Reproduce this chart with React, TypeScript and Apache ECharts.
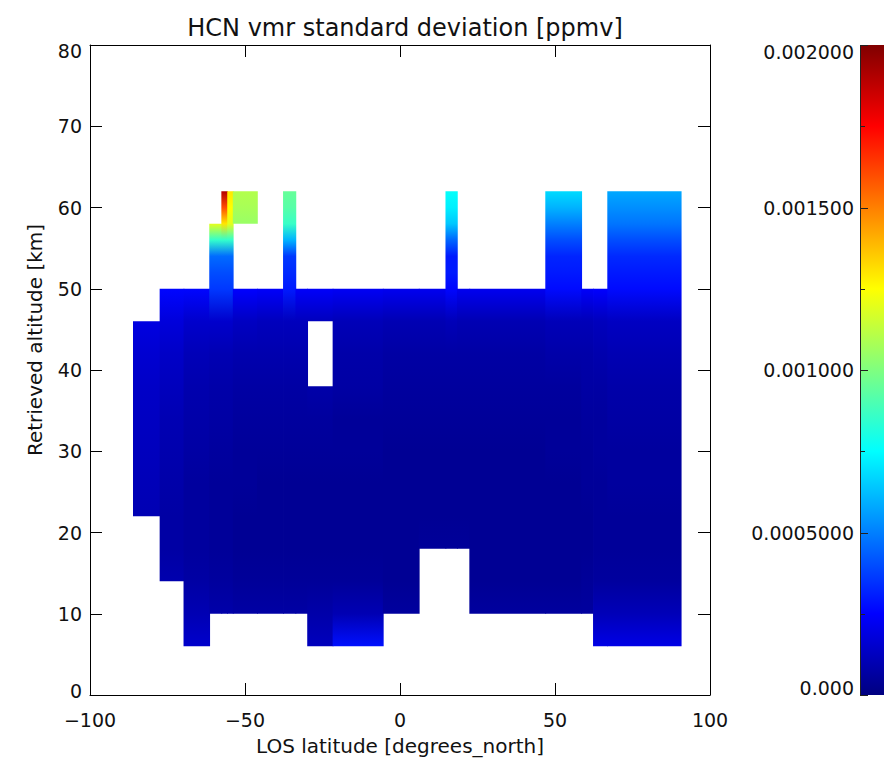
import React, { useEffect, useRef } from "react";
import * as echarts from "echarts";

// Altitude nodes (km) at which each latitude column carries a value
const NODE_ALT = [6, 10, 14, 18, 22, 26, 30, 34, 38, 42, 46, 50, 52, 54, 56, 58, 60, 62];

// Latitude edges of each column (degrees north)
const COL_LAT_LO = [-86, -77.4, -69.7, -61.4, -57.5, -55.6, -53.8, -46, -37.6, -33.6, -29.8, -21.6, -5.4, 6.2, 14.8, 18.5, 22.5, 47, 58.6, 62.4, 67];
const COL_LAT_HI = [-77.4, -69.7, -61.4, -57.5, -55.6, -53.8, -46, -37.6, -33.6, -29.8, -21.6, -5.4, 6.2, 14.8, 18.5, 22.5, 47, 58.6, 62.4, 67, 90.7];

const n = null;
// HCN vmr standard deviation (ppmv) per column, at NODE_ALT (null = no data)
const col01 = [n, n, n, n, 0.0001, 0.00011, 0.00012, 0.00013, 0.00014, 0.00016, 0.00019, n, n, n, n, n, n, n];
const col02 = [n, n, 0.00009, 0.00007, 0.00007, 0.00008, 0.00009, 0.0001, 0.00012, 0.00014, 0.00018, 0.00026, n, n, n, n, n, n];
const col03 = [0.00015, 0.0001, 0.00007, 0.00006, 0.00006, 0.00006, 0.00007, 0.00008, 0.00009, 0.00011, 0.00015, 0.00026, n, n, n, n, n, n];
const col04 = [n, 0.00008, 0.00006, 0.00005, 0.00005, 0.00005, 0.00006, 0.00007, 0.00008, 0.0001, 0.00015, 0.00036, 0.0004, 0.00046, 0.00085, 0.0012, n, n];
const col05 = [n, 0.00008, 0.00006, 0.00005, 0.00005, 0.00005, 0.00006, 0.00007, 0.00008, 0.0001, 0.00015, 0.00036, 0.0004, 0.00046, 0.00085, 0.0013, 0.0016, 0.0019];
const col06 = [n, 0.00008, 0.00006, 0.00005, 0.00005, 0.00005, 0.00006, 0.00007, 0.00008, 0.0001, 0.00015, 0.00036, 0.0004, 0.00046, 0.00085, 0.0012, 0.00125, 0.0013];
const col07 = [n, 0.00007, 0.00005, 0.00004, 0.00004, 0.00005, 0.00005, 0.00006, 0.00007, 0.00009, 0.00013, 0.00025, n, n, n, 0.00105, 0.00108, 0.0011];
const col08 = [n, 0.00007, 0.00005, 0.00004, 0.00004, 0.00004, 0.00005, 0.00006, 0.00007, 0.00009, 0.00012, 0.00024, n, n, n, n, n, n];
const col09 = [n, 0.00007, 0.00005, 0.00004, 0.00004, 0.00004, 0.00005, 0.00006, 0.00007, 0.00009, 0.00012, 0.0003, 0.00033, 0.00036, 0.0006, 0.00086, 0.00092, 0.00095];
const col10 = [n, 0.00007, 0.00005, 0.00004, 0.00004, 0.00004, 0.00005, 0.00006, 0.00007, 0.00009, 0.00012, 0.00024, n, n, n, n, n, n];
const col11 = [0.00012, 0.00008, 0.00005, 0.00004, 0.00004, 0.00004, 0.00005, 0.00006, 0.00008, n, 0.00012, 0.00024, n, n, n, n, n, n];
const col12 = [0.00028, 0.0001, 0.00005, 0.00004, 0.00004, 0.00004, 0.00005, 0.00005, 0.00007, 0.00008, 0.00011, 0.00023, n, n, n, n, n, n];
const col13 = [n, 0.00006, 0.00004, 0.00004, 0.00004, 0.00004, 0.00004, 0.00005, 0.00006, 0.00007, 0.0001, 0.00022, n, n, n, n, n, n];
const col14 = [n, n, n, 0.00005, 0.00004, 0.00004, 0.00004, 0.00005, 0.00006, 0.00007, 0.0001, 0.00022, n, n, n, n, n, n];
const col15 = [n, n, n, 0.00005, 0.00004, 0.00004, 0.00004, 0.00005, 0.00006, 0.00007, 0.00011, 0.00026, 0.0003, 0.0003, 0.00045, 0.00064, 0.00072, 0.00076];
const col16 = [n, n, n, 0.00005, 0.00004, 0.00004, 0.00004, 0.00005, 0.00006, 0.00007, 0.0001, 0.00022, n, n, n, n, n, n];
const col17 = [n, 0.00006, 0.00004, 0.00004, 0.00004, 0.00004, 0.00004, 0.00005, 0.00006, 0.00007, 0.0001, 0.00022, n, n, n, n, n, n];
const col18 = [n, 0.00006, 0.00004, 0.00004, 0.00004, 0.00004, 0.00005, 0.00005, 0.00006, 0.00008, 0.00011, 0.00027, 0.0003, 0.00032, 0.0004, 0.0005, 0.0006, 0.00068];
const col19 = [n, 0.00006, 0.00005, 0.00004, 0.00004, 0.00005, 0.00005, 0.00006, 0.00007, 0.00008, 0.00011, 0.00024, n, n, n, n, n, n];
const col20 = [0.0002, 0.00011, 0.00006, 0.00005, 0.00005, 0.00005, 0.00006, 0.00006, 0.00007, 0.00009, 0.00012, 0.00025, n, n, n, n, n, n];
const col21 = [0.0002, 0.00011, 0.00006, 0.00005, 0.00005, 0.00006, 0.00006, 0.00007, 0.00008, 0.0001, 0.00013, 0.00027, 0.0003, 0.00033, 0.0004, 0.00048, 0.00053, 0.00058];

const COLUMNS: (number | null)[][] = [
  col01, col02, col03, col04, col05, col06, col07, col08, col09, col10, col11,
  col12, col13, col14, col15, col16, col17, col18, col19, col20, col21,
];

// Colour bar range and tick labels
const VMIN = 0;
const VMAX = 0.002;
const CBAR_TICKS = [0, 0.0005, 0.001, 0.0015, 0.002];
const CBAR_LABELS = ["0.000", "0.0005000", "0.001000", "0.001500", "0.002000"];

// Colour table (jet): position 0..1 and RGB
const JET_POS = [0, 0.125, 0.375, 0.625, 0.875, 1];
const JET_RGB = [
  [0, 0, 128],
  [0, 0, 255],
  [0, 255, 255],
  [255, 255, 0],
  [255, 0, 0],
  [128, 0, 0],
];

function jet(t: number): string {
  const v = Math.max(0, Math.min(1, t));
  for (let i = 1; i < JET_POS.length; i++) {
    if (v <= JET_POS[i]) {
      const f = (v - JET_POS[i - 1]) / (JET_POS[i] - JET_POS[i - 1]);
      const c0 = JET_RGB[i - 1];
      const c1 = JET_RGB[i];
      const c = c0.map((a, k) => Math.round(a + (c1[k] - a) * f));
      return `rgb(${c[0]},${c[1]},${c[2]})`;
    }
  }
  return "rgb(128,0,0)";
}

const FONT = "DejaVu Sans";
const INK = "#111";

export default function App() {
  const ref = useRef<HTMLDivElement>(null);

  useEffect(() => {
    if (!ref.current) return;
    const chart = echarts.init(ref.current, undefined, { renderer: "svg" });

    const data = COL_LAT_LO.map((lo, i) => [lo, COL_LAT_HI[i], i]);

    const renderItem = (params: any, api: any) => {
      const idx = params.dataIndex;
      const lo = api.value(0);
      const hi = api.value(1);
      const vals = COLUMNS[idx];
      const children: any[] = [];
      let k = 0;
      while (k < vals.length) {
        if (vals[k] == null) {
          k++;
          continue;
        }
        let e = k;
        while (e + 1 < vals.length && vals[e + 1] != null) e++;
        if (e > k) {
          const top = NODE_ALT[e];
          const bot = NODE_ALT[k];
          const p1 = api.coord([lo, top]);
          const p2 = api.coord([hi, bot]);
          const stops: any[] = [];
          for (let j = e; j >= k; j--) {
            stops.push({
              offset: (top - NODE_ALT[j]) / (top - bot),
              color: jet(((vals[j] as number) - VMIN) / (VMAX - VMIN)),
            });
          }
          children.push({
            type: "rect",
            shape: {
              x: p1[0] - 0.4,
              y: p1[1],
              width: p2[0] - p1[0] + 0.8,
              height: p2[1] - p1[1],
            },
            style: { fill: new echarts.graphic.LinearGradient(0, 0, 0, 1, stops) },
          });
        }
        k = e + 1;
      }
      return { type: "group", children };
    };

    // colour bar: one rect spanning VMIN..VMAX on the bar's own axis, plus its ticks on top
    const renderBar = (_params: any, api: any) => {
      const p1 = api.coord([0, api.value(1)]);
      const p2 = api.coord([1, api.value(0)]);
      const stops = JET_POS.map((p, i) => ({
        offset: 1 - p,
        color: `rgb(${JET_RGB[i].join(",")})`,
      })).reverse();
      const children: any[] = [
        {
          type: "rect",
          shape: { x: p1[0], y: p1[1], width: p2[0] - p1[0], height: p2[1] - p1[1] },
          style: { fill: new echarts.graphic.LinearGradient(0, 0, 0, 1, stops) },
        },
        {
          type: "line",
          shape: { x1: p1[0] + 0.5, y1: p1[1], x2: p1[0] + 0.5, y2: p2[1] },
          style: { stroke: "#222", lineWidth: 1 },
        },
      ];
      const step = (CBAR_TICKS[1] - CBAR_TICKS[0]) / 2;
      for (let v = VMIN; v <= VMAX + 1e-12; v += step) {
        const y = Math.round(api.coord([0, v])[1]) + 0.5;
        const major = CBAR_TICKS.some((t) => Math.abs(t - v) < 1e-9);
        children.push({
          type: "line",
          shape: { x1: p1[0], y1: y, x2: p1[0] + (major ? 8 : 5), y2: y },
          style: { stroke: "#222", lineWidth: 1 },
        });
      }
      return { type: "group", children };
    };

    const labelStyle = { fontFamily: FONT, fontSize: 19, color: INK };
    const frameLine = { show: true, onZero: false, lineStyle: { color: "#000", width: 1 } };
    const innerTick = { show: true, inside: true, length: 12, lineStyle: { color: "#000", width: 1 } };

    const option: any = {
      animation: false,
      backgroundColor: "#fff",
      title: {
        text: "HCN vmr standard deviation [ppmv]",
        left: 400,
        textAlign: "center",
        top: 11,
        textStyle: { fontFamily: FONT, fontSize: 24, fontWeight: "normal", color: INK },
      },
      grid: [
        { left: 90, top: 45, width: 620, height: 650 },
        { left: 860, top: 45, width: 40, height: 650 },
      ],
      xAxis: [
        {
          type: "value",
          gridIndex: 0,
          position: "bottom",
          min: -100,
          max: 100,
          interval: 50,
          name: "LOS latitude [degrees_north]",
          nameLocation: "middle",
          nameGap: 41,
          nameTextStyle: { ...labelStyle, fontSize: 20 },
          axisLine: frameLine,
          axisTick: innerTick,
          splitLine: { show: false },
          axisLabel: {
            ...labelStyle,
            margin: 15,
            formatter: (v: number) => String(v).replace("-", "\u2212"),
          },
        },
        {
          type: "value",
          gridIndex: 0,
          position: "top",
          min: -100,
          max: 100,
          interval: 50,
          axisLine: frameLine,
          axisTick: innerTick,
          splitLine: { show: false },
          axisLabel: { show: false },
        },
        { type: "value", gridIndex: 1, show: false, min: 0, max: 1 },
      ],
      yAxis: [
        {
          type: "value",
          gridIndex: 0,
          position: "left",
          min: 0,
          max: 80,
          interval: 10,
          name: "Retrieved altitude [km]",
          nameLocation: "middle",
          nameGap: 45,
          nameTextStyle: { ...labelStyle, fontSize: 20, padding: [0, 0, 0, 60] },
          axisLine: frameLine,
          axisTick: innerTick,
          splitLine: { show: false },
          axisLabel: {
            ...labelStyle,
            margin: 8,
            formatter: (v: number) => (v === 80 ? "{t|80}" : v === 0 ? "{b|0}" : String(v)),
            rich: {
              t: { ...labelStyle, padding: [12, 0, 0, 0] },
              b: { ...labelStyle, padding: [0, 0, 8, 0] },
            },
          },
        },
        {
          type: "value",
          gridIndex: 0,
          position: "right",
          min: 0,
          max: 80,
          interval: 10,
          axisLine: frameLine,
          axisTick: innerTick,
          splitLine: { show: false },
          axisLabel: { show: false },
        },
        {
          type: "value",
          gridIndex: 1,
          position: "left",
          min: VMIN,
          max: VMAX,
          interval: 0.0005,
          axisLine: { show: false },
          axisTick: { show: false },
          splitLine: { show: false },
          axisLabel: {
            ...labelStyle,
            margin: 6,
            formatter: (v: number) => {
              const i = CBAR_TICKS.findIndex((t) => Math.abs(t - v) < 1e-9);
              const s = i >= 0 ? CBAR_LABELS[i] : "";
              if (i === CBAR_TICKS.length - 1) return `{t|${s}}`;
              if (i === 0) return `{b|${s}}`;
              return s;
            },
            rich: {
              t: { ...labelStyle, padding: [14, 0, 0, 0] },
              b: { ...labelStyle, padding: [0, 0, 14, 0] },
            },
          },
        },
      ],
      series: [
        {
          type: "custom",
          xAxisIndex: 0,
          yAxisIndex: 0,
          renderItem,
          encode: { x: [0, 1], y: [2] },
          data,
          clip: true,
          silent: true,
        },
        {
          type: "custom",
          xAxisIndex: 2,
          yAxisIndex: 2,
          renderItem: renderBar,
          encode: { y: [0, 1] },
          data: [[VMIN, VMAX]],
          silent: true,
        },
      ],
    };

    chart.setOption(option);
    return () => chart.dispose();
  }, []);

  return (
    <div
      ref={ref}
      style={{ position: "fixed", left: 0, top: 0, width: 884, height: 767, background: "#fff" }}
    />
  );
}
